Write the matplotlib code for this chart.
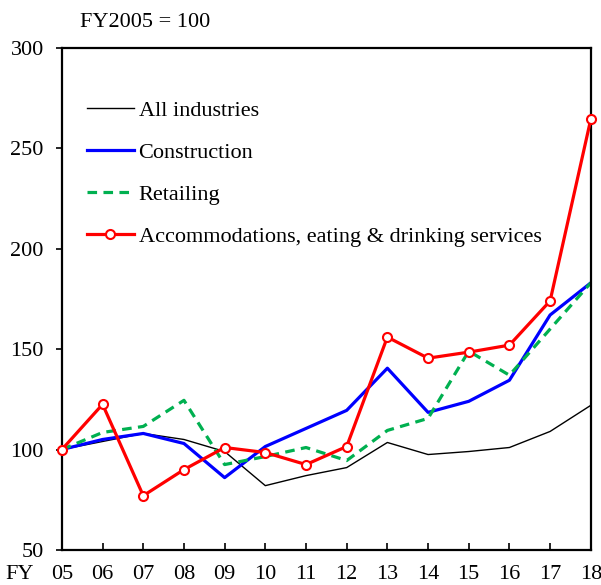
import matplotlib
matplotlib.use("Agg")
import matplotlib.pyplot as plt

# Datos (FY2005 = 100)
anios = ["05", "06", "07", "08", "09", "10", "11", "12", "13", "14", "15", "16", "17", "18"]
todas = [100, 104, 108, 105, 99, 82, 87, 91, 103.5, 97.5, 99, 101, 109, 122]
construccion = [100, 105, 108, 103, 86, 101.5, 110.5, 119.5, 140.5, 118.5, 124, 134.5, 167, 183]
comercio = [100, 108.5, 111.5, 124.5, 92.5, 96.5, 101, 94.5, 109.5, 115.5, 149, 137, 160, 183]
alojamiento = [100, 122.5, 77, 90, 101, 98.5, 92.5, 101.5, 156, 145.5, 148.5, 152, 174, 264.5]

etiquetas = ["All industries", "Construction", "Retailing",
             "Accommodations, eating & drinking services"]

plt.rcParams["font.family"] = ["Liberation Serif", "DejaVu Serif"]
plt.rcParams["font.size"] = 16

fig = plt.figure(figsize=(6.01, 5.85), dpi=100)
ax = fig.add_axes([0.103, 0.060, 0.880, 0.858])

x = list(range(len(anios)))
ax.plot(x, todas, color="black", lw=1.0, label=etiquetas[0])
ax.plot(x, construccion, color="#0000FF", lw=2.3, label=etiquetas[1])
ax.plot(x, comercio, color="#00B050", lw=2.3, ls=(0, (3, 2)), label=etiquetas[2])
ax.plot(x, alojamiento, color="#FF0000", lw=2.3, marker="o", ms=6.5,
        mfc="white", mec="#FF0000", mew=1.5, label=etiquetas[3],
        clip_on=False, zorder=5)

ax.set_xlim(0, len(anios) - 1)
ax.set_ylim(50, 300)
ax.set_yticks([50, 100, 150, 200, 250, 300])
ax.set_xticks(x)
ax.set_xticklabels(anios)

for lado in ax.spines.values():
    lado.set_linewidth(1.6)

pad_x = 11
ax.tick_params(axis="x", direction="in", length=5, width=1.2, pad=pad_x)
ax.tick_params(axis="y", direction="out", length=4, width=1.2, pad=9)

ax.legend(loc="upper left", bbox_to_anchor=(0.018, 0.927), frameon=False,
          handlelength=2.1, handletextpad=0.22, labelspacing=0.97, fontsize=16,
          borderaxespad=0.3)

fig.text(0.133, 0.953, "FY2005 = 100", fontsize=16)
ax.annotate("FY", xy=(0, 0), xycoords="axes fraction", xytext=(-41, -pad_x),
            textcoords="offset points", ha="left", va="top", fontsize=16)

fig.savefig("out.png", dpi=100)
